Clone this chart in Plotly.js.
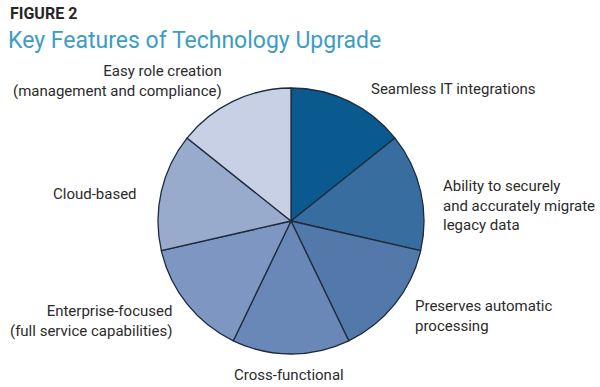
<!DOCTYPE html>
<html>
<head>
<meta charset="utf-8">
<script src="https://cdn.plot.ly/plotly-3.0.1.min.js"></script>
<style>html,body{margin:0;padding:0;background:#fff;}#chart{width:600px;height:387px;}</style>
</head>
<body>
<div id="chart"></div>
<script>
// Data
var features = [
  "Seamless IT integrations",
  "Ability to securely<br>and accurately migrate<br>legacy data",
  "Preserves automatic<br>processing",
  "Cross-functional",
  "Enterprise-focused<br>(full service capabilities)",
  "Cloud-based",
  "Easy role creation<br>(management and compliance)"
];
var shares = [1, 1, 1, 1, 1, 1, 1];
var sliceColors = ["#0b5a8f", "#386da0", "#5279a9", "#6a88b7", "#7e97c2", "#98abcd", "#c7d0e4"];

// Label placement (pixel anchors in the 600x387 frame): x anchor, vertical centre
var W = 600, H = 387;
var labelPos = [
  {x: 369, y: 89, align: "left"},
  {x: 441, y: 205.5, align: "left"},
  {x: 413, y: 316, align: "left"},
  {x: 289, y: 375, align: "center"},
  {x: 174, y: 320.5, align: "right"},
  {x: 139, y: 194, align: "right"},
  {x: 224, y: 81.5, align: "right"}
];

var annotations = features.map(function (lab, i) {
  var p = labelPos[i];
  return {
    text: lab, xref: "paper", yref: "paper",
    x: p.x / W, y: 1 - p.y / H,
    xanchor: p.align, yanchor: "middle", align: p.align, showarrow: false,
    font: {family: "Roboto, 'Open Sans', sans-serif", size: 15, color: "#2b2b2b"}
  };
});
annotations.push({
  text: "<b>FIGURE 2</b>", xref: "paper", yref: "paper",
  x: 8 / W, y: 1 - 14 / H, xanchor: "left", yanchor: "middle", showarrow: false,
  font: {family: "Roboto, 'Open Sans', sans-serif", size: 16, color: "#262626"}
});

var cx = 291, cy = 221, r = 133;
var trace = {
  type: "pie",
  labels: features.map(function (f) { return f.replace(/<br>/g, " "); }),
  values: shares,
  sort: false,
  direction: "clockwise",
  rotation: 0,
  textinfo: "none",
  hoverinfo: "label",
  marker: {colors: sliceColors, line: {color: "#1e2b3c", width: 1.3}},
  domain: {x: [(cx - r) / W, (cx + r) / W], y: [1 - (cy + r) / H, 1 - (cy - r) / H]},
  showlegend: false
};

var layout = {
  width: W, height: H,
  margin: {l: 0, r: 0, t: 0, b: 0},
  paper_bgcolor: "#ffffff",
  title: {
    text: "Key Features of Technology Upgrade",
    x: 8 / W, xanchor: "left", xref: "container",
    y: 1 - 40 / H, yanchor: "middle", yref: "container",
    font: {family: "Roboto, 'Open Sans', sans-serif", size: 23, color: "#3c9dc2"}
  },
  annotations: annotations,
  showlegend: false
};

Plotly.newPlot("chart", [trace], layout, {displayModeBar: false, staticPlot: true});
</script>
</body>
</html>
